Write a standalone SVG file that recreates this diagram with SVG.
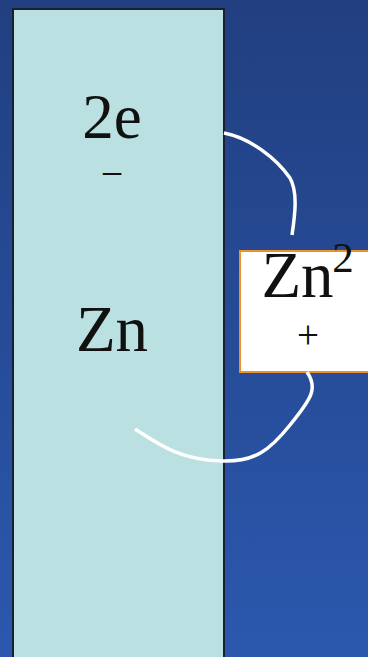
<svg xmlns="http://www.w3.org/2000/svg" width="368" height="657" viewBox="0 0 368 657">
<defs>
<linearGradient id="bg" x1="0" y1="0" x2="0" y2="1">
<stop offset="0" stop-color="#213f80"/>
<stop offset="1" stop-color="#2b58ae"/>
</linearGradient>
<style>
.t{font-family:"Liberation Serif","Times New Roman",serif;fill:#111;text-anchor:middle}
.w{fill:none;stroke:#fff;stroke-width:3.5;stroke-linecap:butt}
</style>
</defs>
<rect x="0" y="0" width="368" height="657" fill="url(#bg)"/>
<g id="electrode">
<rect x="13" y="9" width="211" height="660" fill="#bae0e2" stroke="#1a2030" stroke-width="2"/>
<text class="t" x="112" y="138" font-size="63">2e</text>
<text class="t" x="112" y="187" font-size="40">−</text>
<text class="t" x="112" y="351" font-size="65">Zn</text>
</g>
<g id="ion">
<rect x="240" y="251" width="132" height="121" fill="#fff" stroke="#f0922a" stroke-width="2"/>
<text class="t" x="297.5" y="297" font-size="65">Zn</text>
<text class="t" x="343" y="272" font-size="43">2</text>
<text class="t" x="308" y="348" font-size="39">+</text>
</g>
<g id="connectors">
<path class="w" d="M224,133 C250,138 276,158 290,178 C298,192 295,215 292,235"/>
<path class="w" d="M135,429 C160,445 180,460 222,461 C255,462 270,450 290,425 C312,398 318,388 307,372"/>
</g>
</svg>
